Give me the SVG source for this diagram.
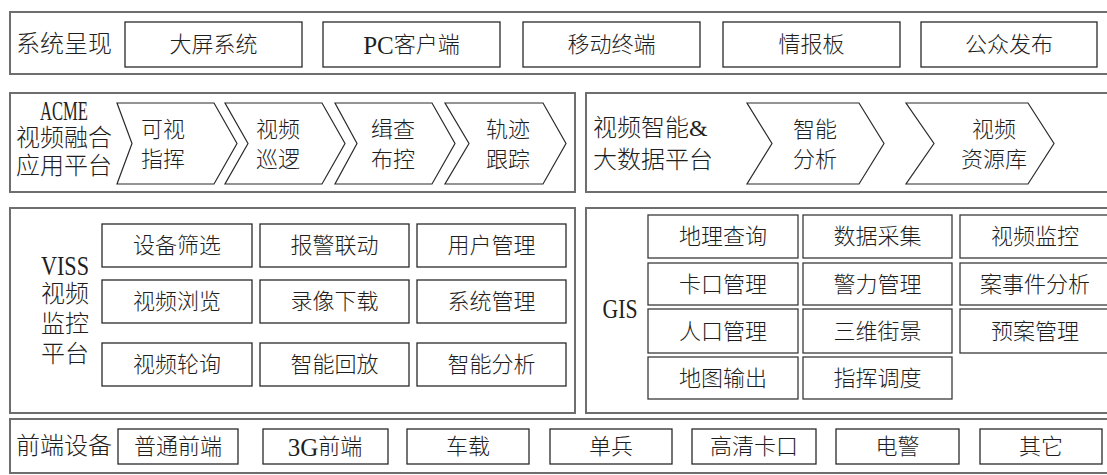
<svg xmlns="http://www.w3.org/2000/svg" width="1107" height="475" viewBox="0 0 1107 475">
<style>
.outer{fill:#fff;stroke:#6e6e6e;stroke-width:2}
.box{fill:#fff;stroke:#2a2a2a;stroke-width:1.3}
.cell{fill:#fff;stroke:#3a3a3a;stroke-width:1.3}
.chev{fill:#fff;stroke:#2a2a2a;stroke-width:1.2;stroke-linejoin:miter}
text{font-family:"Liberation Serif","Noto Sans CJK SC",serif;font-weight:300;fill:#1e1e1e;dominant-baseline:central}
.t{font-size:22px;text-anchor:middle}
.lb{font-size:24px}
.lbm{font-size:24px;text-anchor:middle}
.lat{font-family:"Liberation Serif",serif;font-size:28px;font-weight:400}
.lt{font-family:"Liberation Serif",serif;font-size:25px;font-weight:400}
</style>
<rect width="1107" height="475" fill="#fff"/>

<g id="row-present">
<rect class="outer" x="10" y="12" width="1105" height="62"/>
<text class="lb" x="16" y="44">系统呈现</text>
<g id="n-dapin"><rect class="box" x="125" y="22" width="177" height="45"/><text class="t" x="213.5" y="44.5">大屏系统</text></g>
<g id="n-pc"><rect class="box" x="323" y="22" width="177" height="45"/><text class="t" x="411.5" y="44.5"><tspan class="lt">PC</tspan>客户端</text></g>
<g id="n-mobile"><rect class="box" x="523" y="22" width="177" height="45"/><text class="t" x="611.5" y="44.5">移动终端</text></g>
<g id="n-board"><rect class="box" x="723" y="22" width="177" height="45"/><text class="t" x="811.5" y="44.5">情报板</text></g>
<g id="n-public"><rect class="box" x="921" y="22" width="176" height="45"/><text class="t" x="1009" y="44.5">公众发布</text></g>
</g>

<g id="row-acme">
<rect class="outer" x="10" y="93" width="565" height="99"/>
<text class="lbm lat" x="64" y="110" textLength="48" lengthAdjust="spacingAndGlyphs">ACME</text>
<text class="lbm" x="64" y="138">视频融合</text>
<text class="lbm" x="64" y="166">应用平台</text>
<g id="n-kszh"><polygon class="chev" points="117,103 214,103 237,143.5 214,184 117,184 132,143.5"/><text class="t" x="163" y="129">可视</text><text class="t" x="163" y="159">指挥</text></g>
<g id="n-spxl"><polygon class="chev" points="225,103 322,103 345,143.5 322,184 225,184 248,143.5"/><text class="t" x="278" y="129">视频</text><text class="t" x="278" y="159">巡逻</text></g>
<g id="n-jcbk"><polygon class="chev" points="335,103 432,103 455,143.5 432,184 335,184 357,143.5"/><text class="t" x="393" y="129">缉查</text><text class="t" x="393" y="159">布控</text></g>
<g id="n-gjgz"><polygon class="chev" points="445,103 543,103 566,143.5 543,184 445,184 469,143.5"/><text class="t" x="508" y="129">轨迹</text><text class="t" x="508" y="159">跟踪</text></g>
</g>

<g id="row-bigdata">
<rect class="outer" x="586" y="93" width="529" height="99"/>
<text class="lb" x="593" y="128">视频智能&amp;</text>
<text class="lb" x="593" y="160">大数据平台</text>
<g id="n-znfx"><polygon class="chev" points="747,103 859,103 884,143.5 859,184 747,184 772,143.5"/><text class="t" x="815" y="129">智能</text><text class="t" x="815" y="159">分析</text></g>
<g id="n-spzyk"><polygon class="chev" points="906,103 1028,103 1054,143.5 1028,184 906,184 934,143.5"/><text class="t" x="994" y="129">视频</text><text class="t" x="994" y="159">资源库</text></g>
</g>

<g id="row-viss">
<rect class="outer" x="10" y="208" width="565" height="205"/>
<text class="lbm lat" x="65" y="265" textLength="48" lengthAdjust="spacingAndGlyphs">VISS</text>
<text class="lbm" x="65" y="294">视频</text>
<text class="lbm" x="65" y="324">监控</text>
<text class="lbm" x="65" y="354">平台</text>
<g id="n-sbsx"><rect class="box" x="102" y="224" width="150" height="43"/><text class="t" x="177" y="245.5">设备筛选</text></g>
<g id="n-bjld"><rect class="box" x="260" y="224" width="149" height="43"/><text class="t" x="334.5" y="245.5">报警联动</text></g>
<g id="n-yhgl"><rect class="box" x="417" y="224" width="149" height="43"/><text class="t" x="491.5" y="245.5">用户管理</text></g>
<g id="n-spll"><rect class="box" x="102" y="280" width="150" height="43"/><text class="t" x="177" y="301.5">视频浏览</text></g>
<g id="n-lxxz"><rect class="box" x="260" y="280" width="149" height="43"/><text class="t" x="334.5" y="301.5">录像下载</text></g>
<g id="n-xtgl"><rect class="box" x="417" y="280" width="149" height="43"/><text class="t" x="491.5" y="301.5">系统管理</text></g>
<g id="n-splx"><rect class="box" x="102" y="343" width="150" height="43"/><text class="t" x="177" y="364.5">视频轮询</text></g>
<g id="n-znhf"><rect class="box" x="260" y="343" width="149" height="43"/><text class="t" x="334.5" y="364.5">智能回放</text></g>
<g id="n-znfx2"><rect class="box" x="417" y="343" width="149" height="43"/><text class="t" x="491.5" y="364.5">智能分析</text></g>
</g>

<g id="row-gis">
<rect class="outer" x="586" y="208" width="529" height="205"/>
<text class="lbm lat" x="620" y="308" textLength="35" lengthAdjust="spacingAndGlyphs">GIS</text>
<g id="n-dlcx"><rect class="cell" x="648" y="215" width="150" height="43"/><text class="t" x="723" y="236.5">地理查询</text></g>
<g id="n-sjcj"><rect class="cell" x="803" y="215" width="149" height="43"/><text class="t" x="877.5" y="236.5">数据采集</text></g>
<g id="n-spjk"><rect class="cell" x="960" y="215" width="150" height="43"/><text class="t" x="1035" y="236.5">视频监控</text></g>
<g id="n-kkgl"><rect class="cell" x="648" y="263" width="150" height="42"/><text class="t" x="723" y="284">卡口管理</text></g>
<g id="n-jlgl"><rect class="cell" x="803" y="263" width="149" height="42"/><text class="t" x="877.5" y="284">警力管理</text></g>
<g id="n-asjfx"><rect class="cell" x="960" y="263" width="150" height="42"/><text class="t" x="1035" y="284">案事件分析</text></g>
<g id="n-rkgl"><rect class="cell" x="648" y="309" width="150" height="44"/><text class="t" x="723" y="331">人口管理</text></g>
<g id="n-swjj"><rect class="cell" x="803" y="309" width="149" height="44"/><text class="t" x="877.5" y="331">三维街景</text></g>
<g id="n-yagl"><rect class="cell" x="960" y="309" width="150" height="44"/><text class="t" x="1035" y="331">预案管理</text></g>
<g id="n-dtsc"><rect class="cell" x="648" y="357" width="150" height="42"/><text class="t" x="723" y="378">地图输出</text></g>
<g id="n-zhdd"><rect class="cell" x="803" y="357" width="149" height="42"/><text class="t" x="877.5" y="378">指挥调度</text></g>
</g>

<g id="row-front">
<rect class="outer" x="10" y="419" width="1105" height="54"/>
<text class="lb" x="16" y="446">前端设备</text>
<g id="n-ptqd"><rect class="box" x="118" y="429" width="120" height="35"/><text class="t" x="178" y="446.5">普通前端</text></g>
<g id="n-3g"><rect class="box" x="263" y="429" width="125" height="35"/><text class="t" x="325" y="446.5"><tspan class="lt">3G</tspan>前端</text></g>
<g id="n-cz"><rect class="box" x="407" y="429" width="122" height="35"/><text class="t" x="468" y="446.5">车载</text></g>
<g id="n-db"><rect class="box" x="550" y="429" width="122" height="35"/><text class="t" x="611" y="446.5">单兵</text></g>
<g id="n-gqkk"><rect class="box" x="692" y="429" width="124" height="35"/><text class="t" x="754" y="446.5">高清卡口</text></g>
<g id="n-dj"><rect class="box" x="836" y="429" width="123" height="35"/><text class="t" x="897.5" y="446.5">电警</text></g>
<g id="n-qt"><rect class="box" x="980" y="429" width="122" height="35"/><text class="t" x="1041" y="446.5">其它</text></g>
</g>

<g id="connectors"></g>
</svg>
